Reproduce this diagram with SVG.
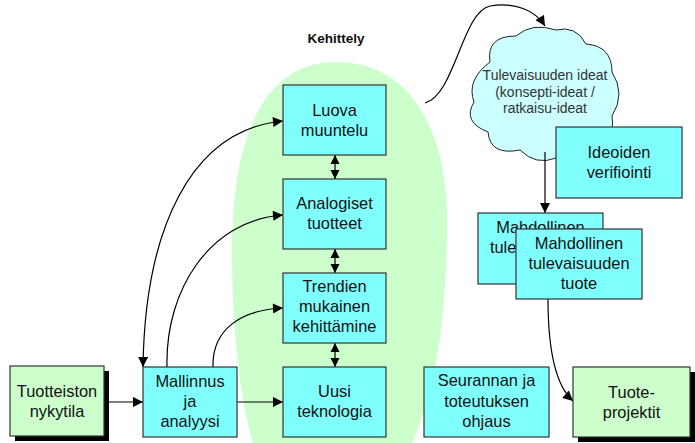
<svg xmlns="http://www.w3.org/2000/svg" width="695" height="443" viewBox="0 0 695 443">
<defs>
<style>
.box{fill:#80FFFF;stroke:#333;stroke-width:1.2}
.gbox{fill:#CCFFCC;stroke:#333;stroke-width:1.2}
.sh{fill:#000}
.t{font-family:"Liberation Sans",Arial,sans-serif;font-size:16.4px;fill:#111;text-anchor:middle}
.ct{font-family:"Liberation Sans",Arial,sans-serif;font-size:14px;fill:#333;text-anchor:middle}
.kt{font-family:"Liberation Sans",Arial,sans-serif;font-size:13.5px;font-weight:bold;fill:#111;text-anchor:middle}
.c{fill:none;stroke:#000;stroke-width:1.2}
</style>
<marker id="ah" viewBox="0 0 10 10" refX="10" refY="5" markerWidth="11" markerHeight="10" markerUnits="userSpaceOnUse" orient="auto-start-reverse">
<path d="M0,0 L10,5 L0,10 Z" fill="#000"/>
</marker>
<marker id="dh" viewBox="0 0 10 10" refX="10" refY="5" markerWidth="9" markerHeight="11" markerUnits="userSpaceOnUse" orient="auto-start-reverse">
<path d="M0,0 L10,5 L0,10 Z" fill="#000"/>
</marker>
</defs>
<g id="kehittely-area">
<path d="M232 250 C232 140 262 62 336 62 C410 62 447 130 447 220 C447 330 432 400 412 443 L253 443 C240 400 232 330 232 250 Z" fill="#CCFFCC"/>
<text class="kt" x="336" y="43">Kehittely</text>
</g>
<g id="cloud">
<path d="M490 62 Q486 36 516 36 Q532 22 556 30 Q576 25 586 44 Q612 46 612 72 Q626 94 612 116 Q616 142 590 146 Q580 166 556 158 Q536 166 520 150 Q490 156 488 132 Q462 122 474 102 Q466 80 490 62 Z" fill="#CCFFFF" stroke="#222" stroke-width="1"/>
<text class="ct" x="545" y="80">Tulevaisuuden ideat</text>
<text class="ct" x="545" y="97">(konsepti-ideat /</text>
<text class="ct" x="545" y="113">ratkaisu-ideat</text>
</g>
<g id="connectors">
<line class="c" x1="104" y1="402" x2="143" y2="402" marker-end="url(#ah)"/>
<line class="c" x1="237" y1="402" x2="283" y2="402" marker-end="url(#ah)"/>
<path class="c" d="M143 367 C145 230 190 130 283 121" marker-start="url(#ah)" marker-end="url(#ah)"/>
<path class="c" d="M167 367 C165 290 210 220 283 215" marker-end="url(#ah)"/>
<path class="c" d="M213 367 C212 330 240 310 283 308" marker-end="url(#ah)"/>
<line class="c" x1="335" y1="155" x2="335" y2="179" stroke-width="2.5" marker-start="url(#dh)" marker-end="url(#dh)"/>
<line class="c" x1="335" y1="249" x2="335" y2="273" stroke-width="2.5" marker-start="url(#dh)" marker-end="url(#dh)"/>
<line class="c" x1="335" y1="343" x2="335" y2="367" stroke-width="2.5" marker-start="url(#dh)" marker-end="url(#dh)"/>
<path class="c" d="M425 103 C455 95 462 12 490 6 C515 2 535 10 545 26" marker-end="url(#ah)"/>
<line class="c" x1="545" y1="152" x2="545" y2="213" marker-end="url(#ah)"/>
<path class="c" d="M548 299 C548 350 555 385 573 401" marker-end="url(#ah)"/>
</g>
<g id="tuotteiston-nykytila">
<rect class="sh" x="15" y="371" width="94" height="70"/>
<rect class="gbox" x="10" y="366" width="94" height="70"/>
<text class="t" x="57" y="397">Tuotteiston</text>
<text class="t" x="57" y="417">nykytila</text>
</g>
<g id="mallinnus">
<rect class="box" x="143" y="367" width="94" height="70"/>
<text class="t" x="190" y="387">Mallinnus</text>
<text class="t" x="190" y="407">ja</text>
<text class="t" x="190" y="427">analyysi</text>
</g>
<g id="luova-muuntelu">
<rect class="box" x="283" y="85" width="103" height="70"/>
<text class="t" x="334.5" y="116">Luova</text>
<text class="t" x="334.5" y="136">muuntelu</text>
</g>
<g id="analogiset-tuotteet">
<rect class="box" x="283" y="179" width="103" height="70"/>
<text class="t" x="334.5" y="209">Analogiset</text>
<text class="t" x="334.5" y="229">tuotteet</text>
</g>
<g id="trendien">
<rect class="box" x="283" y="273" width="103" height="70"/>
<text class="t" x="334.5" y="292">Trendien</text>
<text class="t" x="334.5" y="312">mukainen</text>
<text class="t" x="334.5" y="332">kehittämine</text>
</g>
<g id="uusi-teknologia">
<rect class="box" x="283" y="367" width="103" height="70"/>
<text class="t" x="334.5" y="397">Uusi</text>
<text class="t" x="334.5" y="417">teknologia</text>
</g>
<g id="seurannan">
<rect class="box" x="424" y="367" width="125" height="70"/>
<text class="t" x="486.5" y="386">Seurannan ja</text>
<text class="t" x="486.5" y="407">toteutuksen</text>
<text class="t" x="486.5" y="427">ohjaus</text>
</g>
<g id="ideoiden-verifiointi">
<rect class="box" x="556" y="127" width="126" height="71"/>
<text class="t" x="619" y="158">Ideoiden</text>
<text class="t" x="619" y="178">verifiointi</text>
</g>
<g id="mahdollinen-back">
<rect class="box" x="478" y="213" width="125" height="71"/>
<text class="t" x="540.5" y="233">Mahdollinen</text>
<text class="t" x="540.5" y="253">tulevaisuuden</text>
</g>
<g id="mahdollinen-front">
<rect class="box" x="516" y="229" width="126" height="70"/>
<text class="t" x="579" y="249">Mahdollinen</text>
<text class="t" x="579" y="269">tulevaisuuden</text>
<text class="t" x="579" y="289">tuote</text>
</g>
<g id="tuote-projektit">
<rect class="sh" x="578" y="372" width="117" height="70"/>
<rect class="gbox" x="573" y="367" width="117" height="70"/>
<text class="t" x="631.5" y="398">Tuote-</text>
<text class="t" x="631.5" y="418">projektit</text>
</g>
</svg>
